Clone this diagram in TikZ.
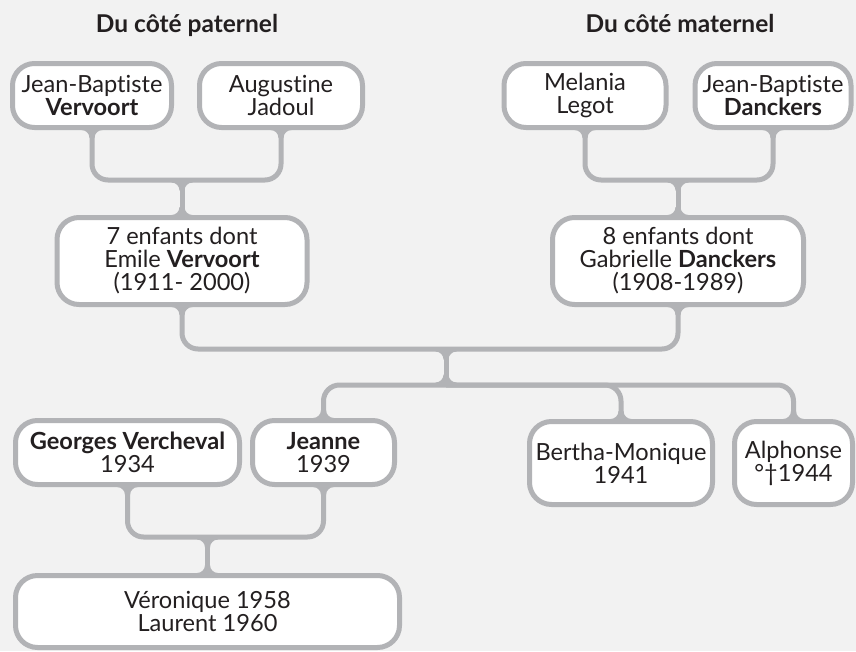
\documentclass[tikz,border=0pt]{standalone}
\usepackage{fontspec}
\setmainfont{Lato}[Ligatures=NoCommon]
\usetikzlibrary{calc}
\definecolor{linegray}{HTML}{B2B3B6}
\definecolor{bg}{HTML}{F2F2F2}
\definecolor{ink}{HTML}{231F20}
\tikzstyle{person}=[rectangle, rounded corners=22pt, draw=linegray, line width=5pt, fill=white, text=ink, align=center, inner sep=0pt, outer sep=0pt, anchor=center, font=\fontsize{23.6}{23}\selectfont]
\tikzstyle{link}=[draw=linegray, line width=5pt, rounded corners=16pt]
\tikzstyle{head}=[text=ink, anchor=base, font=\fontsize{24.5}{25}\selectfont\bfseries]
% flare where a line meets a box or a bar, #2 = + (up) or - (down)
\newcommand{\fillets}[2]
{
  \fill[linegray] let \p1 = (#1) in
    (\x1-10.5pt,\y1) -- (\x1-10.5pt,\y1#2 2.5pt)
    .. controls (\x1-6.1pt,\y1#2 2.5pt) and (\x1-2.5pt,\y1#2 6.1pt) .. (\x1-2.5pt,\y1#2 10.5pt)
    -- (\x1+2.5pt,\y1#2 10.5pt)
    .. controls (\x1+2.5pt,\y1#2 6.1pt) and (\x1+6.1pt,\y1#2 2.5pt) .. (\x1+10.5pt,\y1#2 2.5pt)
    -- (\x1+10.5pt,\y1) -- cycle;
}

\begin{document}
\begin{tikzpicture}[x=1pt,y=-1pt]
	\fill[bg] (0,0) rectangle (856,651);
	\useasboundingbox (0,0) rectangle (856,651);

	\node[head] (pathead) at (187,32) {Du côté paternel};
	\node[head] (mathead) at (680,32) {Du côté maternel};

	\node[person, minimum width=159, minimum height=64] (patfather) at (92,95.5) {Jean-Baptiste\\\textbf{Vervoort}};
	\node[person, minimum width=163, minimum height=64] (patmother) at (281,95.5) {Augustine\\Jadoul};
	\node[person, minimum width=162, minimum height=64] (matmother) at (585,95.5) {Melania\\Legot};
	\node[person, minimum width=156, minimum height=64] (matfather) at (773,95.5) {Jean-Baptiste\\\textbf{Danckers}};

	\node[person, minimum width=250, minimum height=87] (emile) at (182,261) {7 enfants dont\\Emile \textbf{Vervoort}\\(1911- 2000)};
	\node[person, minimum width=251, minimum height=87] (gabrielle) at (678,261) {8 enfants dont\\Gabrielle \textbf{Danckers}\\(1908-1989)};

	\node[person, minimum width=224, minimum height=64] (georges) at (127.5,452.5) {\textbf{Georges Vercheval}\\1934};
	\node[person, minimum width=142, minimum height=64] (jeanne) at (323.5,452.5) {\textbf{Jeanne}\\1939};
	\node[person, minimum width=183, minimum height=83] (bertha) at (621,463) {Bertha-Monique\\1941};
	\node[person, minimum width=118, minimum height=83] (alphonse) at (793.5,463) {Alphonse\\°†1944};

	\node[person, minimum width=384, minimum height=72] (kids) at (207.5,611.5) {Véronique 1958\\Laurent 1960};

	\coordinate (patjoin) at (emile.north |- 0,180);
	\coordinate (matjoin) at (gabrielle.north |- 0,180);
	\coordinate (mid) at (446,349);
	\coordinate (sibs) at (446,385);
	\coordinate (couple) at (kids.north |- 0,537);

	\draw[link] (patfather.south) |- (patjoin) -| (patmother.south);
	\draw[link] (patjoin) -- (emile.north);
	\draw[link] (matmother.south) |- (matjoin) -| (matfather.south);
	\draw[link] (matjoin) -- (gabrielle.north);
	\draw[link] (emile.south) |- (mid) -| (gabrielle.south);
	\draw[link] (mid) -- (sibs);
	\draw[link] (jeanne.north) |- (sibs) -| (alphonse.north);
	\draw[link] (sibs) -| (bertha.north);
	\draw[link] (georges.south) |- (couple) -| (jeanne.south);
	\draw[link] (couple) -- (kids.north);

	\foreach \who in {patfather,patmother,matmother,matfather,emile,gabrielle,georges,jeanne}
		{\fillets{\who.south}{-}}
	\foreach \who in {emile,gabrielle,jeanne,bertha,alphonse,kids}
		{\fillets{\who.north}{+}}
	\foreach \who in {patjoin,matjoin,mid,couple}
		{\fillets{\who}{-}}
	\fillets{sibs}{+}

\end{tikzpicture}
\end{document}
